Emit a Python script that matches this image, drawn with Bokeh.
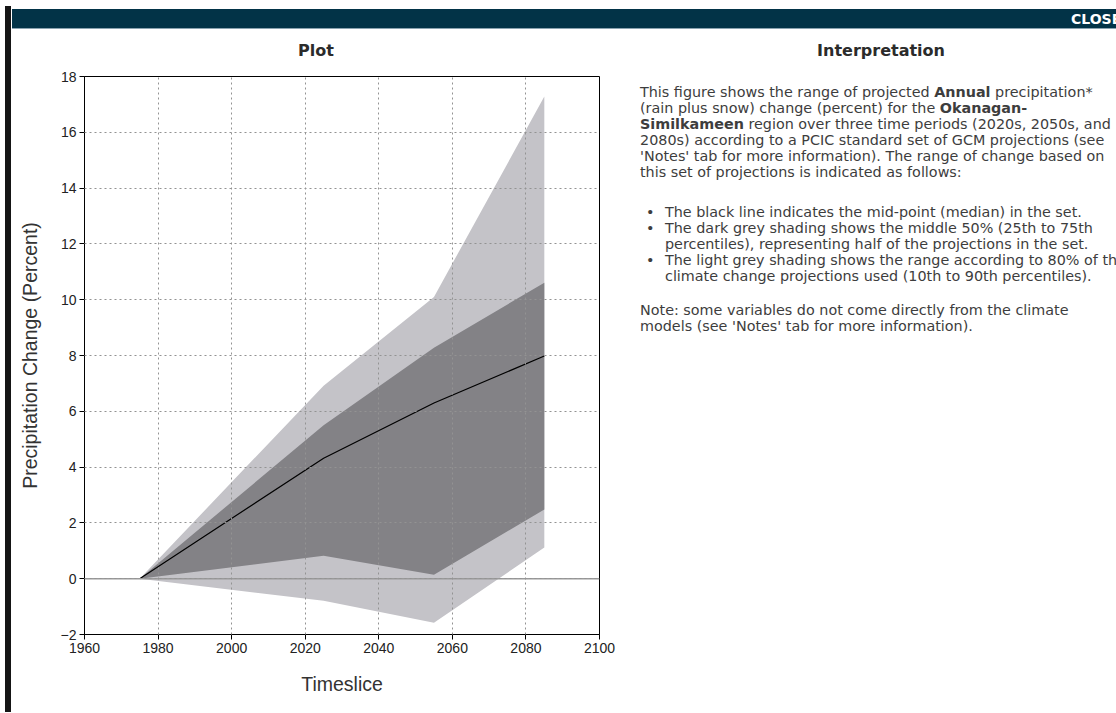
from bokeh.plotting import figure
from bokeh.models import ColumnDataSource, Range1d, FixedTicker, Span, Div
from bokeh.layouts import row, column
from bokeh.embed import file_html
from bokeh.resources import INLINE

# ---- data ----
years = [1975, 2025, 2055, 2085]
median = [0.0, 4.32, 6.30, 7.98]
pct10 = [0.0, -0.79, -1.58, 1.12]
pct25 = [0.0, 0.82, 0.14, 2.48]
pct75 = [0.0, 5.50, 8.28, 10.61]
pct90 = [0.0, 6.92, 10.10, 17.28]
x_ticks = [1960, 1980, 2000, 2020, 2040, 2060, 2080, 2100]
y_ticks = [-2, 0, 2, 4, 6, 8, 10, 12, 14, 16, 18]

LIGHT = "#c4c3c8"
DARK = "#838286"

src = ColumnDataSource(dict(year=years, med=median, p10=pct10, p25=pct25,
                            p75=pct75, p90=pct90))

p = figure(width=608, height=652, x_range=Range1d(1960, 2100), y_range=Range1d(-2, 18),
           output_backend="svg", toolbar_location=None,
           min_border_left=72, min_border_right=21, min_border_top=16, min_border_bottom=78)
p.varea(x="year", y1="p10", y2="p90", source=src, fill_color=LIGHT)
p.varea(x="year", y1="p25", y2="p75", source=src, fill_color=DARK)
p.line(x="year", y="med", source=src, line_color="black", line_width=1.2)
p.add_layout(Span(location=0, dimension="width", line_color="#9a9a9a", line_width=1.5))

p.xaxis.ticker = FixedTicker(ticks=x_ticks, minor_ticks=[])
p.yaxis.ticker = FixedTicker(ticks=y_ticks, minor_ticks=[])
p.xgrid.ticker = FixedTicker(ticks=x_ticks, minor_ticks=[])
p.ygrid.ticker = FixedTicker(ticks=y_ticks, minor_ticks=[])
p.xaxis.axis_label = "Timeslice"
p.yaxis.axis_label = "Precipitation Change (Percent)"
for ax in (p.xaxis, p.yaxis):
    ax.axis_label_text_font = "Liberation Sans"
    ax.axis_label_text_font_size = "19.5px"
    ax.axis_label_text_font_style = "normal"
    ax.axis_label_text_color = "#333333"
    ax.major_label_text_font = "Liberation Sans"
    ax.major_label_text_font_size = "14px"
    ax.major_label_text_color = "#222222"
    ax.major_tick_in = 0
    ax.major_tick_out = 5
    ax.minor_tick_in = 0
    ax.minor_tick_out = 0
    ax.axis_line_color = "black"
    ax.major_tick_line_color = "black"
    ax.major_label_standoff = 3
p.xaxis.axis_label_standoff = 17
p.yaxis.axis_label_standoff = 17

p.grid.grid_line_color = "#939393"
p.grid.grid_line_dash = "2 3"
p.grid.level = "overlay"
p.outline_line_color = "black"
p.outline_line_alpha = 1.0
p.background_fill_color = "white"
p.border_fill_color = "white"

# ---- page chrome ----
M0 = (0, 0, 0, 0)
border = Div(width=12, height=712, margin=M0,
             text='<div style="position:relative;width:12px;height:712px;">'
                  '<div style="position:absolute;left:5px;top:6px;width:6px;height:706px;'
                  'background:#151515;"></div></div>')

header = Div(width=1104, height=30, margin=M0, text=(
    '<div style="position:relative;width:1104px;height:30px;overflow:hidden;background:#fff;">'
    '<div style="position:absolute;left:0;top:9px;width:1104px;height:20px;background:#023347;'
    'border-bottom:1px solid #8aa3b0;"></div>'
    '<span style="position:absolute;left:1059px;top:11px;color:#fff;white-space:nowrap;'
    'font-family:\'DejaVu Sans\';font-weight:bold;font-size:14px;line-height:16px;">CLOSE</span>'
    '</div>'))

plot_title = Div(width=608, height=30, margin=M0, text=(
    '<div style="position:relative;width:608px;height:30px;">'
    '<div style="position:absolute;left:0;top:13px;width:608px;text-align:center;'
    'font-family:\'DejaVu Sans\';font-weight:bold;font-size:16px;line-height:16px;color:#2b2b2b;">Plot</div>'
    '</div>'))

para_lines = [
    'This figure shows the range of projected <b>Annual</b> precipitation*',
    '(rain plus snow) change (percent) for the <b>Okanagan-</b>',
    '<b>Similkameen</b> region over three time periods (2020s, 2050s, and',
    '2080s) according to a PCIC standard set of GCM projections (see',
    "'Notes' tab for more information). The range of change based on",
    'this set of projections is indicated as follows:',
]
bullets = [
    ['The black line indicates the mid-point (median) in the set.'],
    ['The dark grey shading shows the middle 50% (25th to 75th',
     'percentiles), representing half of the projections in the set.'],
    ['The light grey shading shows the range according to 80% of the',
     'climate change projections used (10th to 90th percentiles).'],
]
note_lines = [
    'Note: some variables do not come directly from the climate',
    "models (see 'Notes' tab for more information).",
]

font = ("font-family:'DejaVu Sans';font-size:14.35px;line-height:16px;color:#3d3d3d;"
        "white-space:nowrap;")
html = ['<div style="position:relative;width:496px;height:682px;overflow:hidden;">',
        '<div style="position:absolute;left:0;top:13px;width:522px;text-align:center;'
        'font-family:\'DejaVu Sans\';font-weight:bold;font-size:16px;line-height:16px;color:#2b2b2b;">'
        'Interpretation</div>']
html.append('<div style="position:absolute;left:20px;top:54px;%s">%s</div>'
            % (font, "<br>".join(para_lines)))
top = 174
for b in bullets:
    html.append('<div style="position:absolute;left:26px;top:%dpx;%s">&#8226;</div>' % (top, font))
    html.append('<div style="position:absolute;left:45px;top:%dpx;%s">%s</div>'
                % (top, font, "<br>".join(b)))
    top += 16 * len(b)
html.append('<div style="position:absolute;left:20px;top:%dpx;%s">%s</div>'
            % (272, font, "<br>".join(note_lines)))
html.append('</div>')
interp = Div(width=496, height=682, margin=M0, text="".join(html))

layout = row(border, column(header, row(column(plot_title, p), interp)))

open("out.html", "w").write(file_html(layout, INLINE))
